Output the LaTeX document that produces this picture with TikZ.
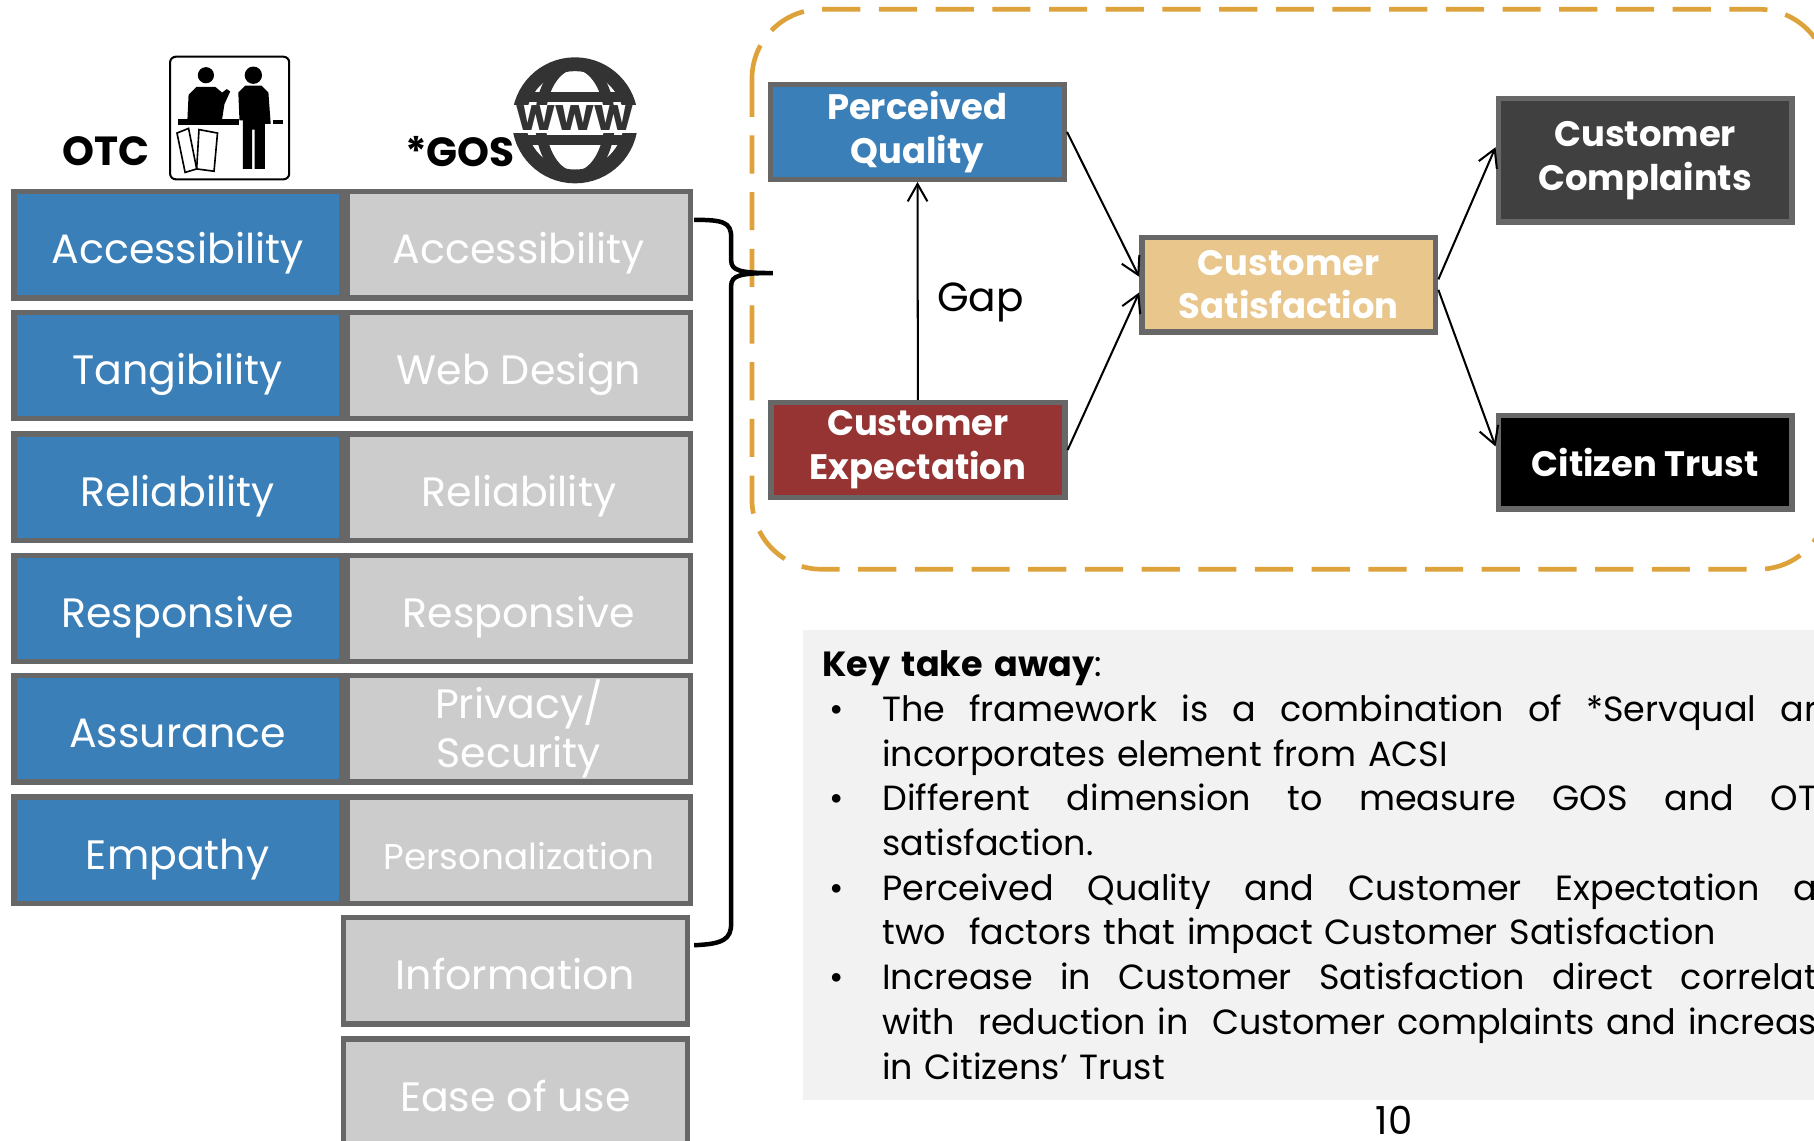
\documentclass[tikz,border=0pt]{standalone}
\usepackage{fontspec}
\setmainfont{Poppins}
\usetikzlibrary{arrows.meta}
\definecolor{otcblue}{RGB}{58,127,184}
\definecolor{boxline}{RGB}{103,103,103}
\definecolor{gosgray}{RGB}{204,204,204}
\definecolor{expred}{RGB}{150,52,52}
\definecolor{sattan}{RGB}{232,198,140}
\definecolor{compgray}{RGB}{64,64,64}
\definecolor{frameorange}{RGB}{222,162,58}
\definecolor{keyfill}{RGB}{242,242,242}
\definecolor{globegray}{RGB}{51,51,51}

\begin{document}
\begin{tikzpicture}[
	dimbox/.style={draw=boxline, line width=1.3pt, text=white, inner sep=0pt, minimum height=0.92cm, align=center, font=\fontsize{10.1}{12}\selectfont},
	onelabel/.style={text height=0.40cm, text depth=0.07cm},
	otcdim/.style={dimbox, onelabel, fill=otcblue, minimum width=2.83cm},
	gosdim/.style={dimbox, onelabel, fill=gosgray, minimum width=2.97cm},
	modelbox/.style={draw=boxline, line width=1.3pt, text=white, inner sep=0pt, minimum width=2.54cm, minimum height=0.82cm, align=center, font=\bfseries\fontsize{8.7}{10.8}\selectfont},
	link/.style={line width=0.5pt, -{Straight Barb[length=1.5mm,width=1.7mm]}},
	headlabel/.style={font=\bfseries\fontsize{10}{12}\selectfont, inner sep=0pt}
]
	\useasboundingbox (0,0) rectangle (15.68,-9.86);
	\clip (0,0) rectangle (15.68,-9.86);

	% OTC icon
	\draw[line width=0.5pt, rounded corners=0.05cm] (1.47,-0.49) rectangle (2.50,-1.55);
	\fill (1.78,-0.65) circle (0.07);
	\fill (1.62,-1.03) -- (1.63,-0.82) -- (1.70,-0.75) -- (1.86,-0.75) -- (1.92,-0.80) -- (1.96,-0.77) -- (1.99,-0.79) -- (1.94,-0.90) -- (1.92,-1.03) -- cycle;
	\fill (1.54,-1.03) rectangle (2.07,-1.08);
	\fill (2.19,-0.65) circle (0.075);
	\fill (2.07,-1.04) -- (2.06,-0.80) -- (2.12,-0.74) -- (2.26,-0.74) -- (2.32,-0.80) -- (2.34,-1.07) -- (2.29,-1.07) -- (2.29,-1.46) -- (2.20,-1.46) -- (2.20,-1.12) -- (2.18,-1.12) -- (2.18,-1.46) -- (2.10,-1.46) -- (2.10,-1.04) -- cycle;
	\fill (2.36,-1.04) rectangle (2.45,-1.07);
	\draw[line width=0.4pt] (1.53,-1.15) -- (1.63,-1.11) -- (1.70,-1.46) -- (1.60,-1.49) -- cycle;
	\draw[line width=0.4pt] (1.72,-1.12) -- (1.88,-1.15) -- (1.85,-1.48) -- (1.70,-1.46) -- cycle;
	\node[headlabel] (otc) at (0.915,-1.31) {OTC};

	% GOS globe
	\draw[globegray, line width=3.4pt] (4.97,-1.04) circle (0.485);
	\draw[globegray, line width=2.6pt] (4.97,-1.04) ellipse (0.3 and 0.485);
	\draw[globegray, line width=2.6pt] (4.54,-0.84) -- (5.40,-0.84);
	\draw[globegray, line width=2.6pt] (4.54,-1.21) -- (5.40,-1.21);
	\fill[white] (4.40,-0.91) rectangle (5.56,-1.15);
	\node[globegray, font=\bfseries\fontsize{11}{12}\selectfont, inner sep=0pt] (www) at (4.97,-1.02) {www};
	\node[headlabel] (gos) at (3.975,-1.31) {*GOS};

	% OTC dimensions
	\node[otcdim] (oacc) at (1.535,-2.115) {Accessibility};
	\node[otcdim] (otan) at (1.535,-3.16) {Tangibility};
	\node[otcdim] (orel) at (1.535,-4.21) {Reliability};
	\node[otcdim] (ores) at (1.535,-5.26) {Responsive};
	\node[otcdim] (oass) at (1.535,-6.30) {Assurance};
	\node[otcdim] (oemp) at (1.535,-7.35) {Empathy};
	% GOS dimensions
	\node[gosdim] (gacc) at (4.485,-2.115) {Accessibility};
	\node[gosdim] (gweb) at (4.485,-3.16) {Web Design};
	\node[gosdim] (grel) at (4.485,-4.21) {Reliability};
	\node[gosdim] (gres) at (4.485,-5.26) {Responsive};
	\node[dimbox, fill=gosgray, minimum width=2.97cm] (gpri) at (4.485,-6.30) {Privacy/\\Security};
	\node[gosdim, font=\fontsize{8.8}{10}\selectfont] (gper) at (4.485,-7.35) {Personalization};
	\node[gosdim] (ginf) at (4.455,-8.39) {Information};
	\node[gosdim] (gease) at (4.455,-9.44) {Ease of use};

	% model frame
	\draw[frameorange, line width=1.15pt, dash pattern=on 0.33cm off 0.16cm, rounded corners=0.6cm] (6.50,-0.08) rectangle (15.80,-4.92);
	% bracket
	\draw[line width=1.1pt] (6.00,-1.90) .. controls (6.25,-1.90) and (6.32,-1.92) .. (6.32,-2.05) -- (6.32,-2.25) .. controls (6.32,-2.34) and (6.40,-2.36) .. (6.68,-2.36) .. controls (6.40,-2.36) and (6.32,-2.38) .. (6.32,-2.47) -- (6.32,-7.98) .. controls (6.32,-8.12) and (6.25,-8.16) .. (6.00,-8.17);

	% model
	\node[modelbox, fill=otcblue] (pq) at (7.93,-1.14) {Perceived\\Quality};
	\node[modelbox, fill=expred] (ce) at (7.935,-3.89) {Customer\\Expectation};
	\node[modelbox, fill=sattan] (cs) at (11.14,-2.46) {Customer\\Satisfaction};
	\node[modelbox, fill=compgray, minimum height=1.07cm] (cc) at (14.22,-1.385) {Customer\\Complaints};
	\node[modelbox, fill=black, minimum height=0.81cm] (ct) at (14.22,-3.995) {Citizen Trust};

	\draw[link] (ce) -- node[right=0.16cm, yshift=-0.1cm, inner sep=0pt, font=\fontsize{10}{12}\selectfont] (gap) {Gap} (pq);
	\draw[link] (pq.east) -- (cs.177);
	\draw[link] (ce.east) -- (cs.183);
	\draw[link] (cs.2) -- (cc.175);
	\draw[link] (cs.358) -- (ct.174);

	% key take away
	\node[fill=keyfill, anchor=north west, inner xsep=0.17cm, inner ysep=0pt, minimum height=4.06cm, text width=8.62cm, align=left, font=\fontsize{8.6}{11.0}\selectfont] (key) at (6.93,-5.44) {%
		\textbf{Key take away}:\\
		\makebox[0.52cm][l]{\hspace{0.06cm}\textbullet}\makebox[8.08cm][l]{The\hfill framework\hfill is\hfill a\hfill combination\hfill of\hfill *Servqual\hfill ar}\\
		\hspace*{0.52cm}incorporates element from ACSI\\
		\makebox[0.52cm][l]{\hspace{0.06cm}\textbullet}\makebox[8.08cm][l]{Different\hfill dimension\hfill to\hfill measure\hfill GOS\hfill and\hfill OT}\\
		\hspace*{0.52cm}satisfaction.\\
		\makebox[0.52cm][l]{\hspace{0.06cm}\textbullet}\makebox[8.08cm][l]{Perceived\hfill Quality\hfill and\hfill Customer\hfill Expectation\hfill a}\\
		\hspace*{0.52cm}two\ \ factors that impact Customer Satisfaction\\
		\makebox[0.52cm][l]{\hspace{0.06cm}\textbullet}\makebox[8.08cm][l]{Increase\hfill in\hfill Customer\hfill Satisfaction\hfill direct\hfill correlat}\\
		\hspace*{0.52cm}\makebox[8.08cm][l]{with\ \ reduction\hfill in\ \ Customer\hfill complaints\hfill and\hfill increas}\\
		\hspace*{0.52cm}in Citizens' Trust};
	\node[font=\fontsize{9.5}{11}\selectfont] (pagenum) at (12.05,-9.68) {10};
\end{tikzpicture}
\end{document}
